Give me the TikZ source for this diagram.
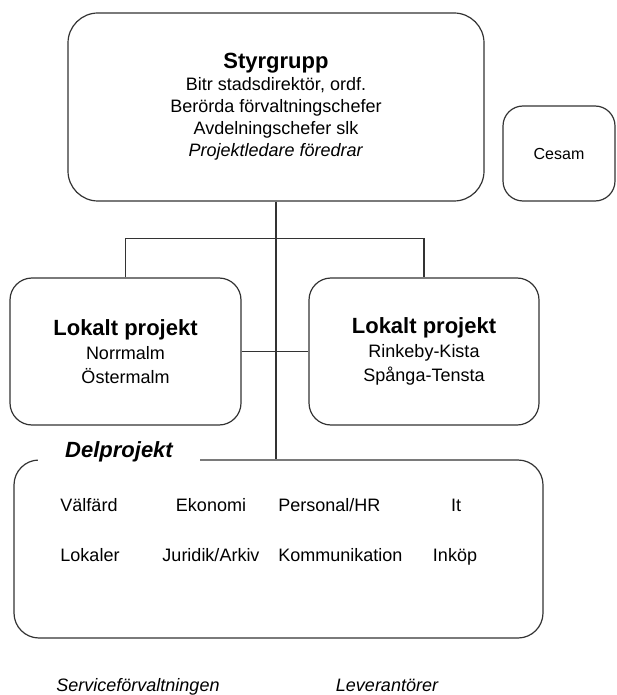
\documentclass[tikz,border=0pt]{standalone}
\usepackage{fontspec}
\setmainfont{Liberation Sans}
\tikzset{
  orgbox/.style={draw=black!80, line width=0.6pt, rounded corners=11pt, align=center,
    font=\fontsize{9}{12}\selectfont},
  head/.style={font=\fontsize{11}{13}\selectfont\bfseries},
  item/.style={font=\fontsize{9}{11}\selectfont, inner sep=0pt, text height=7pt, text depth=2pt},
  conn/.style={draw=black!80, line width=0.6pt}
}
\begin{document}
\begin{tikzpicture}[x=0.5pt, y=-0.5pt]
        \useasboundingbox (0,0) rectangle (616,695);

        % top level
        \node[orgbox, rounded corners=15pt, minimum width=208pt, minimum height=94pt,
          font=\fontsize{9}{11}\selectfont] (styr) at (276,107)
          {{\fontsize{11}{12}\selectfont\bfseries Styrgrupp}\\ Bitr stadsdirektör, ordf.\\
           Berörda förvaltningschefer\\ Avdelningschefer slk\\ \textit{Projektledare föredrar}};
        \node[orgbox, rounded corners=10pt, minimum width=56pt, minimum height=47.5pt,
          font=\fontsize{8}{10}\selectfont] (cesam) at (559,153.5) {Cesam};

        % local projects
        \node[orgbox, minimum width=115.5pt, minimum height=73.5pt] (lokN) at (125.5,351.5)
          {{\fontsize{11}{13}\selectfont\bfseries Lokalt projekt}\\ Norrmalm\\ Östermalm};
        \node[orgbox, minimum width=115pt, minimum height=73.5pt] (lokR) at (424,351.5)
          {{\fontsize{11}{13}\selectfont\bfseries Lokalt projekt}\\ Rinkeby-Kista\\ Spånga-Tensta};

        % sub projects
        \node[orgbox, rounded corners=12.5pt, minimum width=264.5pt, minimum height=89pt] (delp) at (278.5,549) {};
        \node[head, font=\fontsize{11}{13}\selectfont\bfseries\itshape, fill=white,
          minimum width=81pt, minimum height=12pt] (delplabel) at (119,452) {Delprojekt};

        \node[item] (valf) at (89,506) {Välfärd};
        \node[item] (ekon) at (211,506) {Ekonomi};
        \node[item, anchor=west] (pers) at (278,506) {Personal/HR};
        \node[item] (it) at (456,506) {It};
        \node[item] (lok) at (90,556) {Lokaler};
        \node[item] (jur) at (211,556) {Juridik/Arkiv};
        \node[item, anchor=west] (komm) at (278,556) {Kommunikation};
        \node[item] (ink) at (455,556) {Inköp};

        \node[item, font=\fontsize{9}{11}\selectfont\itshape] (serv) at (138,686) {Serviceförvaltningen};
        \node[item, font=\fontsize{9}{11}\selectfont\itshape] (lev) at (387,686) {Leverantörer};

        % connectors
        \draw[conn] (styr.south) -- (styr.south |- delp.north);
        \draw[conn] (lokN.north) -- ++(0,-39) -| (lokR.north);
        \draw[conn] (lokN.east) -- (lokR.west);
    \end{tikzpicture}
\end{document}
